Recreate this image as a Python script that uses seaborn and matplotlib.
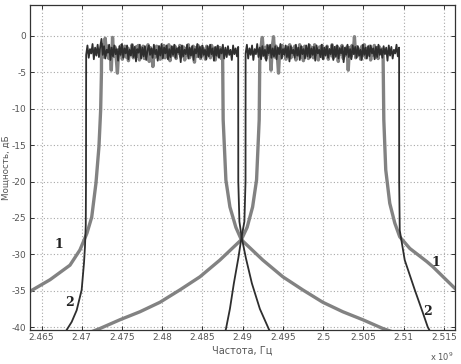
import numpy as np
import matplotlib
matplotlib.use("Agg")
import matplotlib.pyplot as plt
import seaborn as sns

# skirts, frequency in GHz (x 10^9), power in dB
# curve 1 (gray), band A
g_a_left_f = [2.46332, 2.46357, 2.46606, 2.46854, 2.46978, 2.47065, 2.47124, 2.47177, 2.47214, 2.47235, 2.47245]
g_a_left_db = [-35.4, -35.1, -33.5, -31.5, -29.4, -27.1, -24.9, -20.2, -15.2, -10.2, -5.0]
g_a_right_f = [2.48758, 2.48792, 2.48842, 2.48916, 2.48984, 2.49251, 2.49500, 2.49748, 2.49997, 2.50245, 2.50494, 2.50742, 2.50953]
g_a_right_db = [-11.5, -19.8, -23.5, -26.3, -28.0, -30.8, -33.1, -34.9, -36.6, -37.9, -39.0, -40.2, -41.0]
# curve 1 (gray), band B
g_b_left_f = [2.47040, 2.47227, 2.47475, 2.47724, 2.47972, 2.48220, 2.48469, 2.48717, 2.48984, 2.49056, 2.49124, 2.49173, 2.49206]
g_b_left_db = [-41.0, -40.2, -39.0, -37.9, -36.6, -34.9, -33.1, -30.8, -28.0, -26.3, -23.5, -19.8, -11.5]
g_b_right_f = [2.50755, 2.50779, 2.50829, 2.50891, 2.50953, 2.51078, 2.51289, 2.51363, 2.51649, 2.51699]
g_b_right_db = [-11.5, -18.4, -23.0, -25.7, -27.6, -29.2, -31.0, -31.7, -34.8, -35.3]
# curve 2 (dark), band A
d_a_left_f = [2.46767, 2.46813, 2.46875, 2.46937, 2.46999, 2.47028, 2.47040, 2.47050, 2.47053]
d_a_left_db = [-41.2, -40.4, -39.3, -37.7, -34.9, -31.2, -29.0, -26.0, -20.0]
d_a_right_f = [2.48946, 2.48960, 2.48987, 2.49040, 2.49115, 2.49214, 2.49326, 2.49376]
d_a_right_db = [-20.0, -25.5, -27.6, -30.5, -34.0, -37.5, -40.3, -41.2]
# curve 2 (dark), band B
d_b_left_f = [2.48767, 2.48792, 2.48842, 2.48891, 2.48947, 2.48987, 2.49022, 2.49036]
d_b_left_db = [-41.2, -40.3, -37.5, -34.0, -30.5, -27.6, -25.5, -20.0]
d_b_right_f = [2.50946, 2.50953, 2.51015, 2.51140, 2.51239, 2.51301, 2.51351]
d_b_right_db = [-20.0, -26.7, -30.8, -34.9, -38.0, -40.0, -41.0]

# flat tops (band edges + noisy levels)
g_a_edges = [2.47246, 2.48751]
g_a_top = [-2.3, -1.2, -2.9, -0.3, -2.6, -1.4, -3.1, -1.7, -4.7, -0.2, -2.8, -1.5, -3.0, -5.1, -1.9, -2.6, -1.3, -3.2, -2.0, -1.4,
           -2.9, -1.6, -3.4, -1.8, -2.5, -1.2, -3.0, -2.1, -1.5, -2.8, -1.3, -3.3, -1.9, -2.4, -1.4, -3.1, -1.7, -2.7, -1.2, -3.5,
           -1.6, -2.3, -4.2, -1.8, -2.9, -1.4, -2.6, -1.5, -3.2, -1.9, -2.5, -1.3, -3.0, -1.7, -2.8, -1.2, -3.4, -2.0, -1.6, -2.7,
           -1.4, -3.1, -1.8, -2.4, -1.3, -2.9, -2.1, -1.5, -3.3, -1.7, -2.6, -1.2, -3.0, -1.9, -2.5, -1.4, -3.6, -1.6, -2.8, -1.3,
           -2.4, -3.1, -1.5, -2.7, -1.8, -3.2, -1.4, -2.5, -1.9, -3.0, -1.3, -2.6, -1.7, -3.3, -2.0, -1.5, -2.8, -1.6, -3.1, -2.2]
d_a_edges = [2.47055, 2.48945]
d_a_top = [-2.6, -1.3, -3.0, -1.8, -2.4, -1.1, -3.2, -1.6, -2.7, -1.2, -2.9, -1.5, -0.4, -2.6, -1.4, -3.1, -1.9, -2.3, -1.2, -3.3,
           -1.6, -2.8, -1.3, -2.5, -1.8, -3.4, -1.4, -2.6, -1.1, -3.0, -1.7, -2.4, -1.3, -3.2, -1.9, -2.7, -1.2, -2.9, -1.5, -3.5,
           -1.8, -2.3, -1.2, -3.1, -1.6, -2.8, -1.4, -3.3, -2.0, -1.3, -2.6, -1.7, -3.0, -1.2, -2.5, -1.9, -3.4, -1.4, -2.7, -1.1,
           -3.1, -1.6, -2.4, -1.3, -3.2, -1.8, -2.9, -1.4, -2.6, -1.2, -3.0, -1.7, -2.3, -1.5, -3.6, -1.3, -2.8, -1.9, -2.5, -1.2,
           -3.1, -1.6, -2.7, -1.4, -3.3, -1.8, -2.4, -1.1, -2.9, -1.5, -3.0, -1.3, -2.6, -1.9, -3.2, -1.4, -2.8, -1.2, -2.5, -1.7,
           -3.4, -1.5, -2.7, -1.3, -3.0, -1.8, -2.4, -1.2, -3.1, -1.6, -2.9, -1.4, -2.6, -1.9, -3.3, -1.3, -2.5, -1.7, -2.8, -1.5]
g_b_edges = [2.49214, 2.50746]
g_b_top = [-2.2, -1.4, -0.2, -2.7, -1.6, -3.1, -1.3, -2.5, -1.8, -4.7, -1.5, -0.1, -2.9, -1.4, -2.6, -5.1, -1.7, -3.0, -1.3, -2.4,
           -1.9, -3.2, -1.5, -2.8, -1.2, -3.0, -1.7, -2.5, -1.4, -3.3, -1.8, -2.6, -1.2, -2.9, -1.6, -3.4, -1.4, -2.4, -1.9, -3.1,
           -1.3, -2.7, -1.6, -3.0, -1.2, -2.5, -1.8, -3.3, -1.5, -2.8, -1.3, -3.1, -1.7, -2.4, -1.4, -3.2, -1.9, -2.6, -1.2, -3.0,
           -1.6, -2.8, -1.4, -3.5, -1.7, -2.5, -1.3, -3.1, -1.8, -2.7, -1.5, -4.7, -1.6, -2.9, -1.3, -2.4, -0.1, -3.0, -1.5, -2.6,
           -1.8, -3.2, -1.4, -2.7, -1.2, -3.0, -1.7, -2.5, -1.4, -3.3, -1.9, -2.6, -1.3, -2.9, -1.6, -3.1, -1.5, -2.4, -1.8, -2.7]
d_b_edges = [2.49037, 2.50945]
d_b_top = [-2.4, -1.2, -3.1, -1.7, -2.6, -1.3, -3.3, -1.8, -2.5, -1.1, -2.9, -1.6, -3.2, -1.4, -2.7, -1.9, -3.4, -1.3, -2.4, -1.2,
           -3.0, -1.7, -2.8, -1.4, -3.2, -1.6, -2.5, -1.1, -3.1, -1.8, -2.6, -1.3, -2.9, -1.5, -3.5, -1.4, -2.4, -1.9, -3.0, -1.2,
           -2.7, -1.6, -3.3, -1.4, -2.5, -1.8, -3.1, -1.3, -2.8, -1.1, -3.0, -1.7, -2.6, -1.5, -3.4, -1.3, -2.4, -1.9, -2.9, -1.2,
           -3.2, -1.6, -2.7, -1.4, -3.0, -1.8, -2.5, -1.2, -3.3, -1.5, -2.8, -1.3, -3.1, -1.7, -2.4, -1.4, -3.6, -1.6, -2.6, -1.2,
           -2.9, -1.8, -3.2, -1.3, -2.5, -1.5, -3.0, -1.4, -2.7, -1.9, -3.3, -1.2, -2.6, -1.6, -3.1, -1.4, -2.8, -1.3, -2.4, -1.7,
           -3.2, -1.5, -2.9, -1.2, -2.6, -1.8, -3.0, -1.4, -2.5, -1.6, -3.4, -1.3, -2.7, -1.5, -3.1, -1.9, -2.4, -1.2, -2.8, -1.6]

x_ticks = [2.465, 2.47, 2.475, 2.48, 2.485, 2.49, 2.495, 2.5, 2.505, 2.51, 2.515]
x_tick_labels = ["2.465", "2.47", "2.475", "2.48", "2.485", "2.49", "2.495", "2.5", "2.505", "2.51", "2.515"]
y_ticks = [-40, -35, -30, -25, -20, -15, -10, -5, 0]


def band(left_f, left_db, edges, top, right_f, right_db):
    top_f = np.linspace(edges[0], edges[1], len(top))
    f = np.concatenate([left_f, top_f, right_f])
    db = np.concatenate([left_db, top, right_db])
    return f, db


sns.set_theme(style="white")
plt.rcParams['font.family'] = ['DejaVu Sans']
plt.rcParams['axes.unicode_minus'] = False

fig = plt.figure(figsize=(4.61, 3.64), dpi=100)
ax = fig.add_axes([0.0651, 0.0934, 0.9219, 0.8929])

gray = "#828282"
dark = "#2e2e2e"

curves = [
    (band(g_a_left_f, g_a_left_db, g_a_edges, g_a_top, g_a_right_f, g_a_right_db), gray, 2.4),
    (band(g_b_left_f, g_b_left_db, g_b_edges, g_b_top, g_b_right_f, g_b_right_db), gray, 2.4),
    (band(d_a_left_f, d_a_left_db, d_a_edges, d_a_top, d_a_right_f, d_a_right_db), dark, 1.3),
    (band(d_b_left_f, d_b_left_db, d_b_edges, d_b_top, d_b_right_f, d_b_right_db), dark, 1.3),
]
for (f, db), col, lw in curves:
    sns.lineplot(x=f, y=db, sort=False, estimator=None, color=col, lw=lw, ax=ax)

ax.set_xlim(2.46357, 2.5164)
ax.set_ylim(-40.41, 4.26)
ax.set_xticks(x_ticks)
ax.set_xticklabels(x_tick_labels)
ax.set_yticks(y_ticks)
ax.grid(True, linestyle=(0, (1, 2)), color="#a8a8a8", lw=0.8)
for s in ax.spines.values():
    s.set_color("#333333")
    s.set_linewidth(0.9)
ax.tick_params(direction="in", length=3, width=0.7, colors="#333333", labelsize=6.5,
               labelcolor="#555555", top=True, right=True, bottom=True, left=True, pad=2.5)

ax.set_xlabel("Частота, Гц", fontsize=7, color="#555555", labelpad=2)
fig.text(0.013, 0.54, "Мощность, дБ", fontsize=6.3, color="#555555", rotation=90,
         ha="center", va="center")

ax.text(2.46717, -28.6, "1", fontsize=9, fontweight="bold", family="DejaVu Serif", ha="center", va="center", color="#222222")
ax.text(2.46854, -36.6, "2", fontsize=9, fontweight="bold", family="DejaVu Serif", ha="center", va="center", color="#222222")
ax.text(2.51400, -31.1, "1", fontsize=9, fontweight="bold", family="DejaVu Serif", ha="center", va="center", color="#222222")
ax.text(2.51297, -37.8, "2", fontsize=9, fontweight="bold", family="DejaVu Serif", ha="center", va="center", color="#222222")

fig.text(0.985, 0.004, r"x 10$^9$", fontsize=6, color="#555555", ha="right", va="bottom")

fig.savefig("out.png", dpi=100)
